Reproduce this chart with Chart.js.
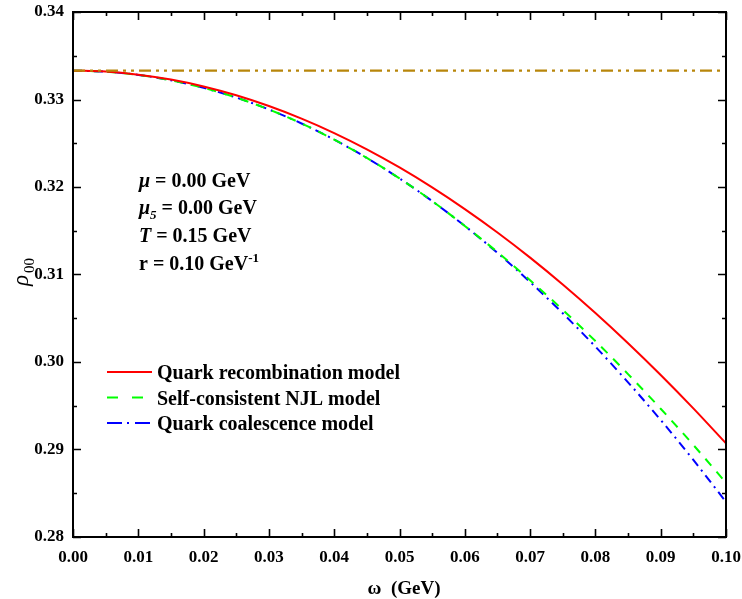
<!DOCTYPE html>
<html>
<head>
<meta charset="utf-8">
<script src="https://cdn.jsdelivr.net/npm/chart.js@4/dist/chart.umd.min.js"></script>
<style>
  html, body { margin: 0; padding: 0; background: #fff; }
  #wrap { width: 742px; height: 599px; }
</style>
</head>
<body>
<div id="wrap"><canvas id="rhoChart" width="742" height="599"></canvas></div>
<script>
// omega (GeV)
const omega = [0, 0.005, 0.01, 0.015, 0.02, 0.025, 0.03, 0.035, 0.04, 0.045, 0.05,
               0.055, 0.06, 0.065, 0.07, 0.075, 0.08, 0.085, 0.09, 0.095, 0.1];

const recombination = [0.3333, 0.33319, 0.33284, 0.33228, 0.33149, 0.33048, 0.32925, 0.32781, 0.32616, 0.32430, 0.32223,
                       0.31995, 0.31747, 0.31480, 0.31193, 0.30886, 0.30560, 0.30215, 0.29852, 0.29470, 0.2907];
const njl = [0.3333, 0.33318, 0.33281, 0.33219, 0.33133, 0.33022, 0.32886, 0.32726, 0.32541, 0.32332, 0.32098,
             0.31839, 0.31555, 0.31256, 0.30934, 0.30596, 0.30239, 0.29862, 0.29466, 0.29052, 0.2862];
const coalescence = [0.3333, 0.33318, 0.33281, 0.33219, 0.33133, 0.33022, 0.32886, 0.32726, 0.32541, 0.32332, 0.32098,
                     0.31839, 0.31555, 0.31247, 0.30914, 0.30557, 0.30175, 0.29768, 0.29337, 0.28881, 0.2840];
const isotropic = [0.3333, 0.3333];
const isoOmega = [0, 0.1];

const xTicks = [0, 0.01, 0.02, 0.03, 0.04, 0.05, 0.06, 0.07, 0.08, 0.09, 0.1];
const yTicks = [0.28, 0.29, 0.30, 0.31, 0.32, 0.33, 0.34];

const SERIF = '"Liberation Serif", "Times New Roman", serif';

function pts(xs, ys) { return xs.map((x, i) => ({ x: x, y: ys[i] })); }

// inward ticks + frame, axis titles, text block and legend
const decor = {
  id: 'decor',
  afterDraw(chart) {
    const c = chart.ctx, a = chart.chartArea;
    const xs = chart.scales.x, ys = chart.scales.y;
    c.save();
    c.strokeStyle = '#000';
    c.lineWidth = 2;
    c.strokeRect(a.left, a.top, a.right - a.left, a.bottom - a.top);
    c.lineWidth = 1.6;
    for (let i = 0; i <= 20; i++) {
      const v = i * 0.005;
      const len = i % 2 === 0 ? 8 : 4;
      const px = Math.round(xs.getPixelForValue(v)) + 0.5;
      c.beginPath();
      c.moveTo(px, a.bottom); c.lineTo(px, a.bottom - len);
      c.moveTo(px, a.top); c.lineTo(px, a.top + len);
      c.stroke();
    }
    for (let i = 0; i <= 12; i++) {
      const v = 0.28 + i * 0.005;
      const len = i % 2 === 0 ? 8 : 4;
      const py = Math.round(ys.getPixelForValue(v)) + 0.5;
      c.beginPath();
      c.moveTo(a.left, py); c.lineTo(a.left + len, py);
      c.moveTo(a.right, py); c.lineTo(a.right - len, py);
      c.stroke();
    }

    c.fillStyle = '#000';
    c.textBaseline = 'alphabetic';
    // x title
    c.font = 'bold 19px ' + SERIF;
    c.textAlign = 'center';
    c.fillText('\u03c9  (GeV)', 404, 594);
    // y title
    c.save();
    c.translate(28, 272);
    c.rotate(-Math.PI / 2);
    c.textAlign = 'left';
    c.font = 'italic 23px ' + SERIF;
    c.fillText('\u03c1', -14, 0);
    c.font = '15px ' + SERIF;
    c.fillText('00', -1, 6);
    c.restore();

    // parameter block
    c.textAlign = 'left';
    const bx = 139;
    function seg(parts, y) {
      let x = bx;
      parts.forEach(p => {
        c.font = p[1] + SERIF;
        c.fillText(p[0], x, y + (p[2] || 0));
        x += c.measureText(p[0]).width;
      });
    }
    seg([['\u03bc', 'italic bold 20px '], [' = 0.00 GeV', 'bold 20px ']], 187);
    seg([['\u03bc', 'italic bold 20px '], ['5', 'italic bold 13px ', 5], [' = 0.00 GeV', 'bold 20px ']], 214);
    seg([['T', 'italic bold 20px '], [' = 0.15 GeV', 'bold 20px ']], 242);
    seg([['r = 0.10 GeV', 'bold 20px '], ['-1', 'bold 13px ', -8]], 270);

    // legend
    const items = [
      ['Quark recombination model', 'rgb(255,0,0)', []],
      ['Self-consistent NJL model', 'rgb(0,255,0)', [11, 14]],
      ['Quark coalescence model', 'rgb(0,0,255)', [15, 5, 2, 6]]
    ];
    items.forEach((it, i) => {
      const y = 372 + i * 25.5;
      c.strokeStyle = it[1];
      c.lineWidth = 2;
      c.setLineDash(it[2]);
      c.beginPath();
      c.moveTo(107, y); c.lineTo(152, y);
      c.stroke();
      c.setLineDash([]);
      c.font = 'bold 20px ' + SERIF;
      c.fillText(it[0], 157, y + 7);
    });
    c.restore();
  }
};

new Chart(document.getElementById('rhoChart'), {
  type: 'line',
  data: {
    datasets: [
      {
        label: 'isotropic',
        data: pts(isoOmega, isotropic),
        borderColor: 'rgb(184,134,11)',
        borderWidth: 2.2,
        borderDash: [12, 5, 3, 5, 3, 5],
        pointRadius: 0
      },
      {
        label: 'Quark recombination model',
        data: pts(omega, recombination),
        borderColor: 'rgb(255,0,0)',
        borderWidth: 2,
        pointRadius: 0,
        cubicInterpolationMode: 'monotone'
      },
      {
        label: 'Self-consistent NJL model',
        data: pts(omega, njl),
        borderColor: 'rgb(0,255,0)',
        borderWidth: 2,
        borderDash: [9, 8],
        pointRadius: 0,
        cubicInterpolationMode: 'monotone'
      },
      {
        label: 'Quark coalescence model',
        data: pts(omega, coalescence),
        borderColor: 'rgb(0,0,255)',
        borderWidth: 2,
        borderDash: [9, 5, 2, 5],
        pointRadius: 0,
        cubicInterpolationMode: 'monotone'
      }
    ]
  },
  options: {
    responsive: false,
    animation: false,
    layout: { padding: { left: 0, top: 12, right: 16, bottom: 0 } },
    plugins: {
      legend: { display: false },
      title: { display: false },
      tooltip: { enabled: false }
    },
    scales: {
      x: {
        type: 'linear',
        min: 0,
        max: 0.1,
        afterFit: (s) => { s.height = 62; s.paddingLeft = 0; s.paddingRight = 0; },
        afterBuildTicks: (s) => { s.ticks = xTicks.map(v => ({ value: v })); },
        grid: { display: false, drawTicks: false },
        border: { display: false },
        ticks: {
          padding: 10,
          color: '#000',
          font: { family: SERIF, size: 17, weight: 'bold' },
          callback: (v) => v.toFixed(2)
        }
      },
      y: {
        type: 'linear',
        min: 0.28,
        max: 0.34,
        afterFit: (s) => { s.width = 73; s.paddingTop = 0; s.paddingBottom = 0; },
        afterBuildTicks: (s) => { s.ticks = yTicks.map(v => ({ value: v })); },
        grid: { display: false, drawTicks: false },
        border: { display: false },
        ticks: {
          padding: 9,
          color: '#000',
          font: { family: SERIF, size: 17, weight: 'bold' },
          callback: (v) => v.toFixed(2)
        }
      }
    }
  },
  plugins: [decor]
});
</script>
</body>
</html>
